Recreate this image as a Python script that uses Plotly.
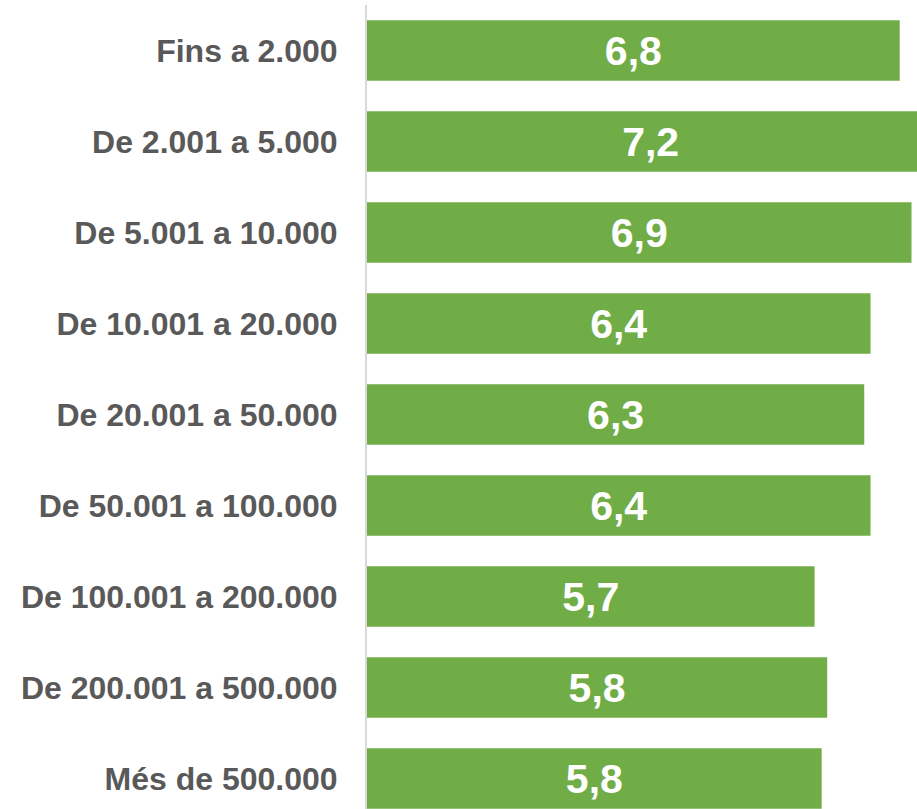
import plotly.graph_objects as go

categories = [
    "Fins a 2.000",
    "De 2.001 a 5.000",
    "De 5.001 a 10.000",
    "De 10.001 a 20.000",
    "De 20.001 a 50.000",
    "De 50.001 a 100.000",
    "De 100.001 a 200.000",
    "De 200.001 a 500.000",
    "Més de 500.000",
]
values = [6.76, 7.2, 6.91, 6.39, 6.31, 6.39, 5.68, 5.84, 5.77]

fig = go.Figure(
    go.Bar(
        y=categories,
        x=values,
        orientation="h",
        marker=dict(color="#70AD47", line=dict(width=0)),
        texttemplate="<b>%{x:.1f}</b>",
        textposition="inside",
        insidetextanchor="middle",
        textangle=0,
        insidetextfont=dict(family="Liberation Sans, Arial, sans-serif", size=41, color="white"),
        constraintext="none",
        cliponaxis=True,
        hoverinfo="skip",
    )
)

fig.update_layout(
    width=917,
    height=809,
    margin=dict(l=367, r=0, t=5, b=0),
    paper_bgcolor="white",
    plot_bgcolor="white",
    separators=",.",
    bargap=0.333,
    showlegend=False,
    font=dict(family="Liberation Sans, Arial, sans-serif"),
)
fig.update_xaxes(
    range=[0, 550 / 78.8],
    showgrid=False,
    zeroline=False,
    showticklabels=False,
    showline=False,
)
fig.update_yaxes(
    categoryorder="array",
    categoryarray=categories,
    range=[8.335, -0.5],
    showgrid=False,
    zeroline=False,
    showline=True,
    linecolor="#D9D9D9",
    linewidth=2,
    ticks="outside",
    ticklen=21,
    tickcolor="rgba(0,0,0,0)",
    tickfont=dict(family="Liberation Sans, Arial, sans-serif", size=32, color="#595959"),
    tickprefix="<b>",
    ticksuffix="</b>",
)

fig.write_html(
    "out.html",
    config={"displayModeBar": False},
    post_script="document.body.style.margin='0';document.body.style.overflow='hidden';",
)
